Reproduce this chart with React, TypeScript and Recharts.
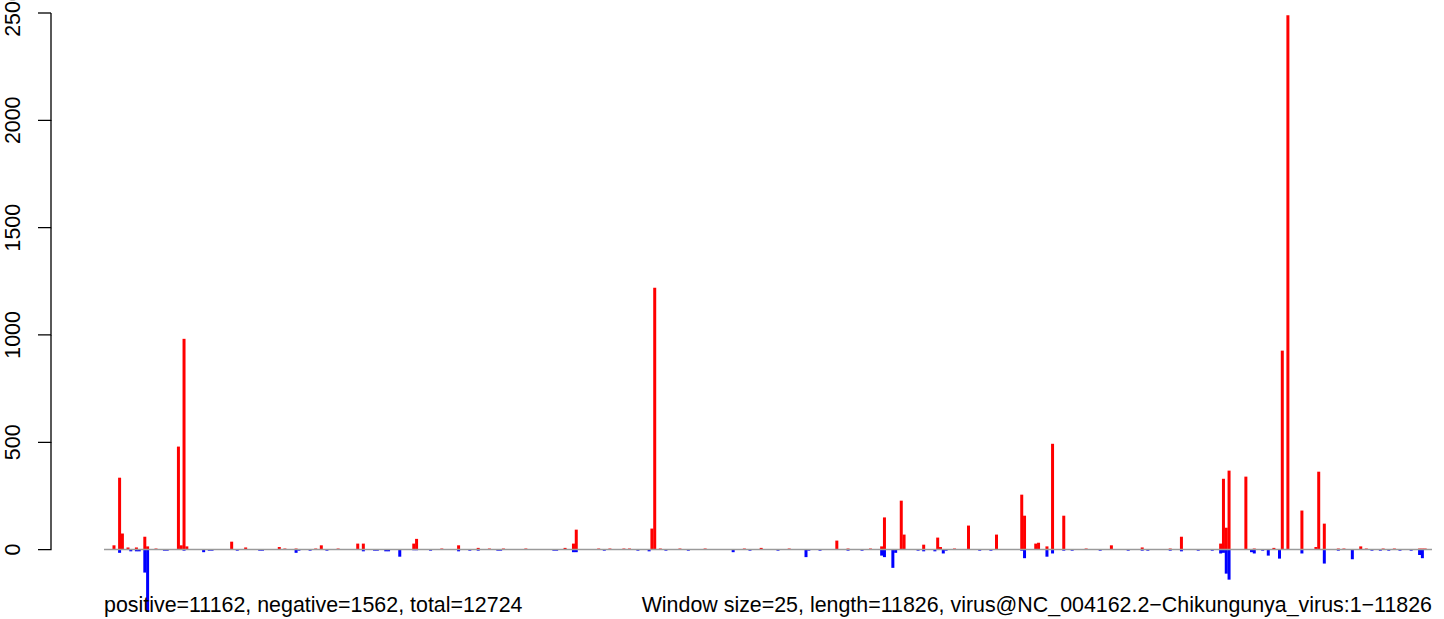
import { Bar, BarChart, ReferenceLine, XAxis, YAxis } from "recharts";

// window = 25 nt, 11826 nt genome -> 474 windows
const WINDOW_COUNT = 474;

// forward-strand (red) windows and depth
const posWindows = [
  3, 5, 6, 8, 11, 14, 15, 26, 27, 28, 29, 45, 50, 62, 68, 77, 90, 92, 110, 111,
  126, 133, 164, 167, 168, 176, 180, 195, 196, 198, 234, 244, 261, 277, 278,
  284, 285, 292, 297, 298, 308, 318, 327, 328, 332, 333, 336, 338, 342, 359,
  370, 384, 398, 399, 400, 401, 407, 410, 417, 420, 422, 427, 432, 433, 435,
  448, 469, 470, 471,
];
const posValues = [
  20, 335, 75, 10, 10, 60, 15, 480, 20, 982, 15, 37, 10, 12, 5, 20, 28, 28, 28,
  50, 20, 8, 8, 28, 93, 5, 5, 98, 1220, 5, 8, 5, 42, 15, 150, 228, 70, 23, 56,
  12, 112, 70, 256, 158, 28, 32, 15, 493, 158, 20, 10, 60, 28, 330, 102, 368,
  340, 5, 8, 927, 2490, 182, 12, 363, 121, 15, 5, 5, 5,
];

// reverse-strand (blue) windows and depth
const negWindows = [
  5, 9, 11, 12, 14, 15, 28, 35, 68, 69, 92, 100, 101, 105, 110, 111, 126, 133,
  167, 168, 194, 224, 250, 251, 277, 278, 281, 282, 292, 296, 299, 327, 328,
  336, 338, 342, 370, 384, 398, 399, 400, 401, 409, 410, 415, 419, 427, 435,
  445, 469, 470,
];
const negValues = [
  -15, -8, -8, -8, -107, -290, -5, -12, -15, -5, -8, -8, -8, -33, -3, -3, -8,
  -5, -12, -12, -8, -12, -35, -5, -28, -35, -85, -15, -8, -8, -18, -5, -40, -33,
  -18, -5, -5, -8, -18, -15, -112, -140, -12, -18, -28, -42, -18, -65, -45, -25,
  -40,
];

// barely visible depth along the baseline
const tinyPosWindows = [
  18, 64, 75, 83, 120, 137, 142, 150, 185, 187, 205, 214, 228, 265, 273, 303,
  350, 380, 440, 442, 450, 456, 460,
];
const tinyNegWindows = [
  21, 22, 37, 38, 47, 55, 56, 73, 79, 96, 97, 116, 130, 140, 141, 160, 161, 178,
  190, 200, 208, 230, 240, 255, 265, 270, 290, 300, 312, 316, 345, 355, 365,
  372, 380, 390, 395, 413, 440, 452, 455, 458, 462, 466,
];
const TINY = 5;

const yTicks = [0, 500, 1000, 1500, 2000, 2500];
const Y_MIN = -300;
const Y_MAX = 2500;

const leftNote = "positive=11162, negative=1562, total=12724";
const rightNote =
  "Window size=25, length=11826, virus@NC_004162.2\u2212Chikungunya_virus:1\u221211826";

const W = 1444;
const H = 619;
const TOP = 13;
const BOTTOM = 5;
const AXIS_X = 51;
const FONT = "'Liberation Sans', Arial, Helvetica, sans-serif";
const FS = 21.4;

function buildRows() {
  const pos = new Map<number, number>();
  const neg = new Map<number, number>();
  tinyPosWindows.forEach((w) => pos.set(w, TINY));
  tinyNegWindows.forEach((w) => neg.set(w, -TINY));
  posWindows.forEach((w, k) => pos.set(w, posValues[k]));
  negWindows.forEach((w, k) => neg.set(w, negValues[k]));
  const rows = [];
  for (let i = 0; i < WINDOW_COUNT; i++) {
    rows.push({ win: i, pos: pos.get(i) ?? 0, neg: neg.get(i) ?? 0 });
  }
  return rows;
}

const rows = buildRows();
const tickStep = (500 * (H - TOP - BOTTOM)) / (Y_MAX - Y_MIN);

// R-style axis: tick mark, a piece of the axis line up to the next tick, rotated label
function renderTick(props: any) {
  const y = Number(props.y);
  const v = Number(props.payload.value);
  let d = `M${AXIS_X - 13},${y}H${AXIS_X}`;
  if (v < Y_MAX) d += `M${AXIS_X},${y + 0.6}V${y - tickStep}`;
  return (
    <g key={`t${v}`}>
      <path d={d} stroke="#000" strokeWidth={1.3} fill="none" />
      <text
        x={20}
        y={y}
        transform={`rotate(-90 20 ${y})`}
        textAnchor="middle"
        fontSize={FS}
        fontFamily={FONT}
        fill="#000"
      >
        {v}
      </text>
    </g>
  );
}

export default function App() {
  return (
    <div style={{ position: "absolute", left: 0, top: 0, width: W, height: H, background: "#fff" }}>
      <BarChart
        width={W}
        height={H}
        data={rows}
        stackOffset="sign"
        barCategoryGap="3%"
        margin={{ top: TOP, right: 12, bottom: BOTTOM, left: 0 }}
      >
        <XAxis dataKey="win" hide />
        <YAxis
          width={104}
          domain={[Y_MIN, Y_MAX]}
          ticks={yTicks}
          interval={0}
          allowDataOverflow
          axisLine={false}
          tickLine={false}
          tick={renderTick}
        />
        <ReferenceLine y={0} stroke="#9a9a9a" strokeWidth={1.5} />
        <Bar dataKey="pos" stackId="s" fill="#ff0000" isAnimationActive={false} />
        <Bar dataKey="neg" stackId="s" fill="#0000ff" isAnimationActive={false} />
      </BarChart>
      <svg
        width={W}
        height={H}
        style={{ position: "absolute", left: 0, top: 0, pointerEvents: "none" }}
      >
        <text x={104} y={612} fontSize={FS} fontFamily={FONT} fill="#000">
          {leftNote}
        </text>
        <text x={1432} y={612} fontSize={FS} fontFamily={FONT} fill="#000" textAnchor="end">
          {rightNote}
        </text>
      </svg>
    </div>
  );
}
